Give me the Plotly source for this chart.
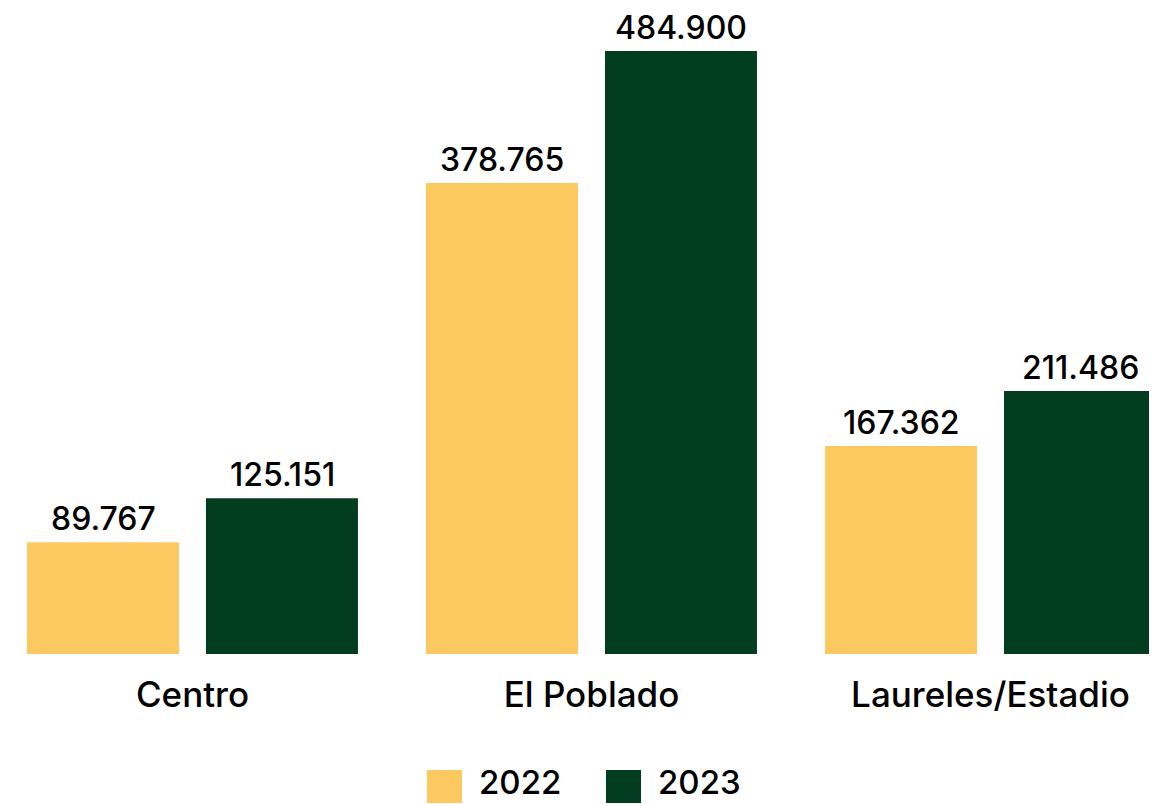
import plotly.graph_objects as go

categories = ["Centro", "El Poblado", "Laureles/Estadio"]
values_2022 = [89767, 378765, 167362]
values_2023 = [125151, 484900, 211486]
series_names = ["2022", "2023"]
colors = ["#FCC860", "#033D20"]

def fmt(v):
    return f"{v:,}".replace(",", ".")

FONT = "Inter"
W, H = 1157, 804
OFF = 8              # page body margin offset
PLOT_H = 654 - OFF   # baseline position inside figure
fig = go.Figure()
for i, (name, vals, col) in enumerate(zip(series_names, [values_2022, values_2023], colors)):
    fig.add_trace(go.Bar(
        x=categories, y=vals, name=name, marker_color=col, marker_line_width=0,
        offsetgroup=str(i), showlegend=False,
    ))
    for c, v in zip(categories, vals):
        fig.add_annotation(x=c, y=v, xref="x", yref="y", text=fmt(v), showarrow=False,
                           xanchor="center", yanchor="bottom", yshift=3, borderpad=0,
                           xshift=(-89.5 if i == 0 else 89.5),
                           font=dict(family=FONT, size=32, color="#000000", weight=500))

# legend drawn as squares + labels
leg_y0 = (PLOT_H - (803 - OFF)) / PLOT_H
leg_y1 = (PLOT_H - (770 - OFF)) / PLOT_H
for i, (name, col) in enumerate(zip(series_names, colors)):
    x0 = (427 - OFF + i * 179) / W
    fig.add_shape(type="rect", xref="paper", yref="paper",
                  x0=x0, x1=x0 + 35 / W, y0=leg_y0, y1=leg_y1,
                  fillcolor=col, line_width=0)
    fig.add_annotation(xref="paper", yref="paper", x=x0 + 51 / W,
                       y=(PLOT_H - (782 - OFF)) / PLOT_H,
                       text=name, showarrow=False, xanchor="left", yanchor="middle",
                       borderpad=0,
                       font=dict(family=FONT, size=33, color="#000000", weight=500))

fig.update_layout(
    width=W, height=H,
    margin=dict(l=0, r=0, t=0, b=H - PLOT_H),
    paper_bgcolor="white", plot_bgcolor="white",
    barmode="group", bargap=0.103, bargroupgap=0.1508,
    xaxis=dict(type="category", range=[-(192.5 - OFF) / 399, -(192.5 - OFF) / 399 + W / 399],
               showgrid=False, showline=False,
               ticks="", tickfont=dict(family=FONT, size=35, color="#000000", weight=500),
               ticklabelstandoff=17),
    yaxis=dict(range=[0, PLOT_H / 603 * 484900], visible=False, showgrid=False),
)
fig.write_html("out.html")
